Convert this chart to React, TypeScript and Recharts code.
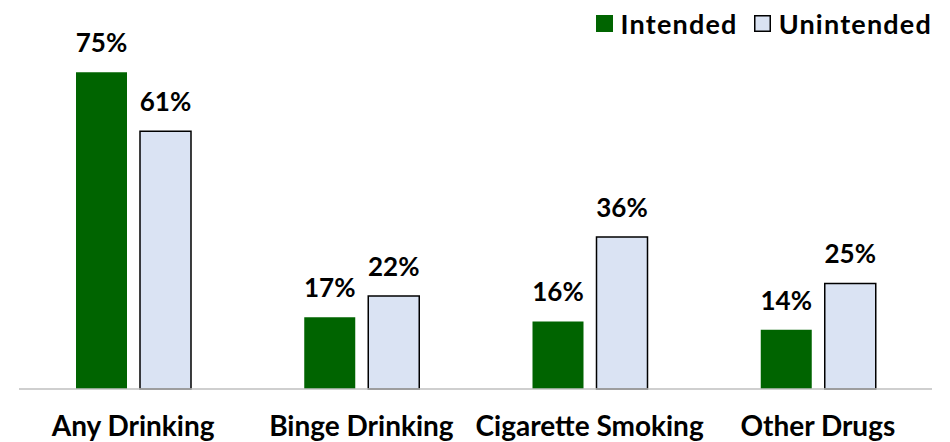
import { BarChart, Bar, XAxis, YAxis, LabelList } from 'recharts'

document.body.style.margin = '0'

const categories = ['Any Drinking', 'Binge Drinking', 'Cigarette Smoking', 'Other Drugs']
const intended = [75, 17, 16, 14]
const unintended = [61, 22, 36, 25]

const data = categories.map((name, i) => ({
  name,
  intended: intended[i],
  unintended: unintended[i],
}))

const FONT = 'Lato, "Open Sans", sans-serif'
const GREEN = '#006400'
const LIGHT = '#DAE3F3'

function CategoryTick({ x, y, payload }: any) {
  return (
    <text x={x} y={y} dy={39} textAnchor="middle" fontFamily={FONT} fontWeight={700} fontSize={28} fill="#000">
      {payload.value}
    </text>
  )
}

function TopLegend() {
  const items = [
    { label: 'Intended', fill: GREEN, stroke: GREEN },
    { label: 'Unintended', fill: LIGHT, stroke: '#000' },
  ]
  return (
    <div style={{ position: 'absolute', top: 10, right: 18, display: 'flex', alignItems: 'center', gap: 16 }}>
      {items.map(it => (
        <div key={it.label} style={{ display: 'flex', alignItems: 'center', gap: 8 }}>
          <svg width={17} height={17}>
            <rect x={0.75} y={0.75} width={15.5} height={15.5} fill={it.fill} stroke={it.stroke} strokeWidth={1.5} />
          </svg>
          <span style={{ fontFamily: FONT, fontWeight: 700, fontSize: 27, letterSpacing: 1.2, color: '#000', lineHeight: 1 }}>
            {it.label}
          </span>
        </div>
      ))}
    </div>
  )
}

export default function App() {
  return (
    <div style={{ position: 'relative', width: 950, height: 442, background: '#fff' }}>
      <BarChart
        width={950}
        height={442}
        data={data}
        margin={{ top: 51, right: 18, left: 19, bottom: 0 }}
        barSize={51}
        barGap={13}
      >
        <XAxis
          dataKey="name"
          height={53}
          tickLine={false}
          axisLine={{ stroke: '#BFBFBF', strokeWidth: 1.5 }}
          tick={<CategoryTick />}
          interval={0}
        />
        <YAxis hide domain={[0, 80]} />
        <Bar dataKey="intended" fill={GREEN} isAnimationActive={false}>
          <LabelList
            dataKey="intended"
            position="top"
            offset={20}
            formatter={(v: number) => `${v}%`}
            style={{ fontFamily: FONT, fontWeight: 700, fontSize: 26, fill: '#000' }}
          />
        </Bar>
        <Bar dataKey="unintended" fill={LIGHT} stroke="#000" strokeWidth={1.5} isAnimationActive={false}>
          <LabelList
            dataKey="unintended"
            position="top"
            offset={20}
            formatter={(v: number) => `${v}%`}
            style={{ fontFamily: FONT, fontWeight: 700, fontSize: 26, fill: '#000' }}
          />
        </Bar>
      </BarChart>
      <TopLegend />
    </div>
  )
}
